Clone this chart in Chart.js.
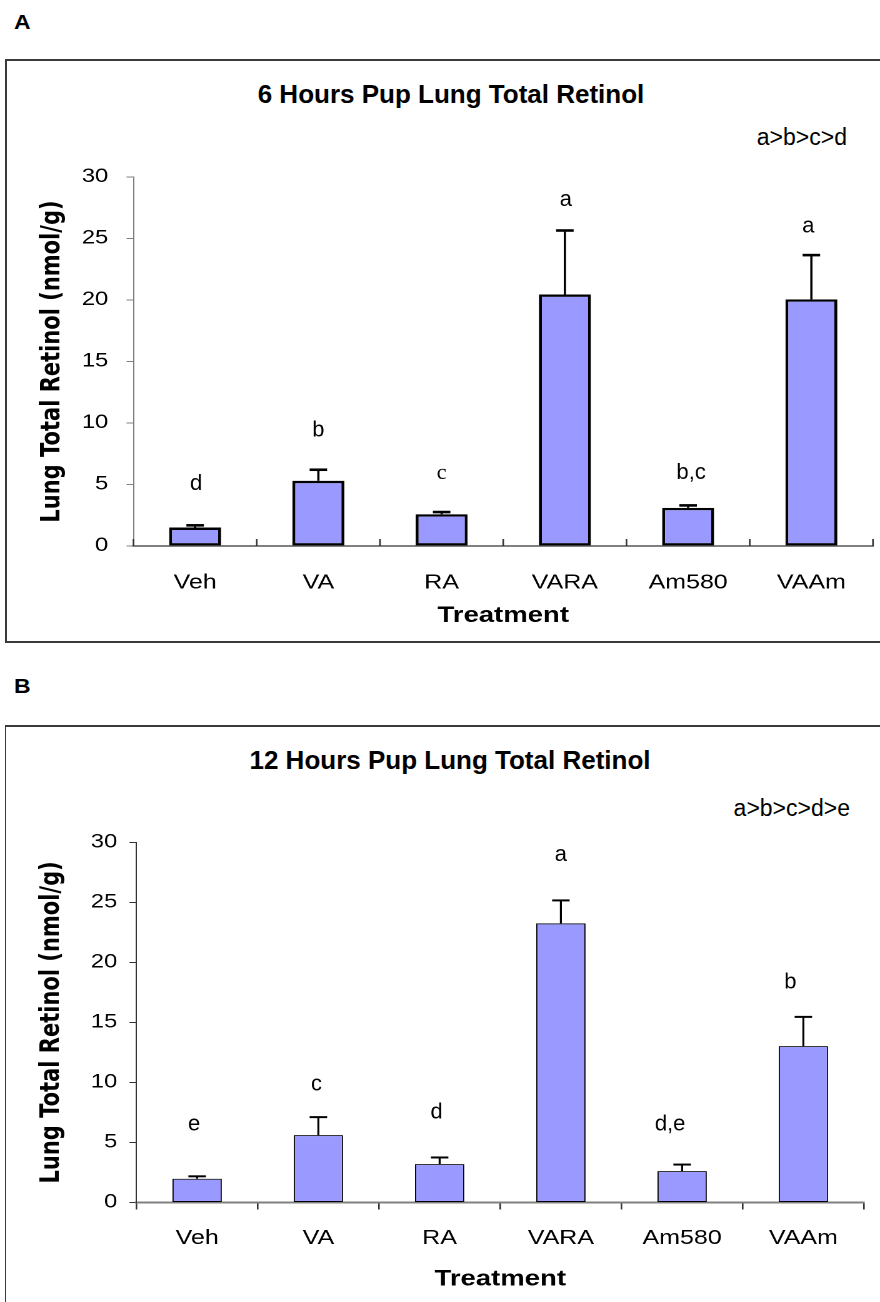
<!DOCTYPE html>
<html>
<head>
<meta charset="utf-8">
<script src="https://cdn.jsdelivr.net/npm/chart.js@4.4.1/dist/chart.umd.min.js"></script>
<style>
  html, body { margin: 0; padding: 0; background: #fff; }
  body { position: relative; width: 880px; height: 1302px; overflow: hidden;
         font-family: "Liberation Sans", Arial, sans-serif; color: #000; }
  .frame { position: absolute; box-sizing: border-box; }
  .txt { position: absolute; white-space: nowrap; line-height: 1; }
  .lbl { transform-origin: 0 0; transform: scaleX(1.15); }
  canvas { position: absolute; left: 0; transform-origin: 0 0; transform: scaleX(1.25); }
</style>
</head>
<body>
<div class="txt lbl" style="left:14px;top:12px;font-size:20px;font-weight:bold;">A</div>
<div class="frame" style="left:5px;top:59px;width:900px;height:584px;border:2px solid #3a3a3a;"></div>
<div class="txt" style="left:451px;top:81px;font-size:26px;font-weight:bold;transform:translateX(-50%);">6 Hours Pup Lung Total Retinol</div>
<div class="txt" style="right:33px;top:125.5px;font-size:23px;">a&gt;b&gt;c&gt;d</div>
<canvas id="cA" width="704" height="650" style="top:0px;"></canvas>

<div class="txt lbl" style="left:14px;top:676px;font-size:20px;font-weight:bold;">B</div>
<div class="frame" style="left:5px;top:725px;width:900px;height:700px;border-top:2px solid #3a3a3a;border-left:1.5px solid #3a3a3a;"></div>
<div class="txt" style="left:450px;top:747px;font-size:26px;font-weight:bold;transform:translateX(-50%);">12 Hours Pup Lung Total Retinol</div>
<div class="txt" style="right:30px;top:796.5px;font-size:23px;">a&gt;b&gt;c&gt;d&gt;e</div>
<canvas id="cB" width="704" height="602" style="top:700px;"></canvas>

<script>
// ---------------- data ----------------
const categories   = ['Veh', 'VA', 'RA', 'VARA', 'Am580', 'VAAm'];
const retinol6h    = [1.5, 5.3, 2.58, 20.45, 3.1, 20.05];
const sem6h        = [0.18, 0.9, 0.18, 5.2, 0.2, 3.6];
const letters6h    = ['d', 'b', 'c', 'a', 'b,c', 'a'];
const letterAt6h   = [4.55, 8.9, 5.45, 27.65, 5.45, 25.5];
const retinol12h   = [1.98, 5.61, 3.2, 23.25, 2.61, 13.02];
const sem12h       = [0.2, 1.5, 0.55, 1.91, 0.55, 2.44];
const letters12h   = ['e', 'c', 'd', 'a', 'd,e', 'b'];
const letterAt12h  = [5.98, 9.31, 7.01, 28.43, 5.98, 17.84];
const yMin = 0, yMax = 30, yStep = 5;
const yTitle = 'Lung Total Retinol (nmol/g)';
const xTitle = 'Treatment';

// horizontal stretch of the original figure
const S = 1.25;
const SANS = '"Liberation Sans", Arial, sans-serif';

Chart.defaults.color = '#000';
Chart.defaults.font.family = SANS;

const annotPlugin = {
  id: 'annot',
  afterDatasetsDraw(chart, args, o) {
    const { ctx, scales: { x, y } } = chart;
    const meta = chart.getDatasetMeta(0);
    const vals = chart.data.datasets[0].data;
    ctx.save();
    ctx.strokeStyle = '#000';
    ctx.lineCap = 'butt';
    meta.data.forEach((bar, i) => {
      const cx = bar.x;
      const yTop = y.getPixelForValue(vals[i]);
      const yErr = y.getPixelForValue(vals[i] + o.err[i]);
      ctx.lineWidth = o.lineWidth;
      ctx.beginPath(); ctx.moveTo(cx, yTop); ctx.lineTo(cx, yErr); ctx.stroke();
      ctx.lineWidth = o.capLine;
      ctx.beginPath(); ctx.moveTo(cx - o.cap, yErr); ctx.lineTo(cx + o.cap, yErr); ctx.stroke();
    });
    if (o.insideTicks) {
      ctx.strokeStyle = '#333';
      ctx.lineWidth = 1.3;
      const yb = y.getPixelForValue(yMin);
      for (let i = 0; i <= categories.length; i++) {
        const px = x.getPixelForValue(i - 0.5);
        ctx.beginPath(); ctx.moveTo(px, yb); ctx.lineTo(px, yb - 7); ctx.stroke();
      }
    }
    ctx.fillStyle = '#000';
    ctx.textAlign = 'center';
    ctx.textBaseline = 'alphabetic';
    o.letters.forEach((t, i) => {
      const px = x.getPixelForValue(i) + o.letterDx[i] / S;
      const py = y.getPixelForValue(o.letterAt[i]);
      ctx.save();
      ctx.translate(px, py);
      ctx.scale(1 / S, 1);
      ctx.font = (o.serif.includes(i) ? '22px "Liberation Serif", serif' : '22px ' + SANS);
      ctx.fillText(t, 0, 0);
      ctx.restore();
    });
    ctx.restore();
  }
};

function makeChart(id, vals, err, letters, letterAt, cfg) {
  return new Chart(document.getElementById(id), {
    type: 'bar',
    data: {
      labels: categories,
      datasets: [{
        data: vals,
        backgroundColor: '#9999FF',
        borderColor: '#000',
        borderWidth: cfg.barBorder,
        borderSkipped: false,
        barPercentage: cfg.barPct,
        categoryPercentage: 1
      }]
    },
    options: {
      responsive: false,
      animation: false,
      devicePixelRatio: 2,
      layout: { padding: cfg.padding },
      plugins: {
        legend: { display: false },
        tooltip: { enabled: false },
        annot: {
          err, letters, letterAt,
          letterDx: cfg.letterDx,
          serif: cfg.serif,
          lineWidth: cfg.errLine, capLine: cfg.capLine, cap: 7,
          insideTicks: cfg.insideTicks
        }
      },
      scales: {
        x: {
          afterFit: s => { s.height = cfg.xHeight; },
          border: { display: true, color: '#808080', width: 2 },
          grid: cfg.insideTicks
            ? { display: false, drawTicks: false, tickLength: 0 }
            : { display: true, drawOnChartArea: false, drawTicks: true, tickLength: 7, color: '#333', lineWidth: 1.3, offset: true },
          ticks: { font: { size: 20 }, padding: cfg.xTickPad, maxRotation: 0, autoSkip: false },
          title: { display: true, text: xTitle, font: { size: 22, weight: 'bold' }, padding: { top: 0, bottom: cfg.xTitlePad } }
        },
        y: {
          min: yMin, max: yMax,
          afterFit: s => { s.width = cfg.yWidth; },
          border: { display: true, color: cfg.yAxisColor, width: 1 },
          grid: { display: true, drawOnChartArea: false, drawTicks: true, tickLength: 5.6, color: cfg.yAxisColor, lineWidth: 1 },
          ticks: { stepSize: yStep, font: { size: 19 }, padding: cfg.yTickPad },
          title: { display: true, text: yTitle, font: { size: 21, weight: 'bold', family: '"DejaVu Sans", Verdana, sans-serif' }, padding: { top: cfg.yTitlePad, bottom: 0 } }
        }
      }
    },
    plugins: [annotPlugin]
  });
}

makeChart('cA', retinol6h, sem6h, letters6h, letterAt6h, {
  barBorder: 2.4, barPct: 0.422, errLine: 1.8, capLine: 2.6,
  padding: { left: 20, right: 5.6, top: 177, bottom: 10 },
  yWidth: 86.8, xHeight: 94, xTickPad: 25, xTitlePad: 10.8, yTickPad: 14.6, yTitlePad: 9.4,
  yAxisColor: '#808080', insideTicks: true,
  letterDx: [1, 0, 0, 1, 3, -3], serif: [2]
});

makeChart('cB', retinol12h, sem12h, letters12h, letterAt12h, {
  barBorder: 1, barPct: 0.407, errLine: 1.6, capLine: 2,
  padding: { left: 20, right: 12.8, top: 142.3, bottom: 5 },
  yWidth: 89.2, xHeight: 94.5, xTickPad: 16.8, xTitlePad: 4.5, yTickPad: 9.8, yTitlePad: 9,
  yAxisColor: '#333', insideTicks: false,
  letterDx: [-3, -2, -3, 0, -12, -13], serif: []
});
</script>
</body>
</html>
